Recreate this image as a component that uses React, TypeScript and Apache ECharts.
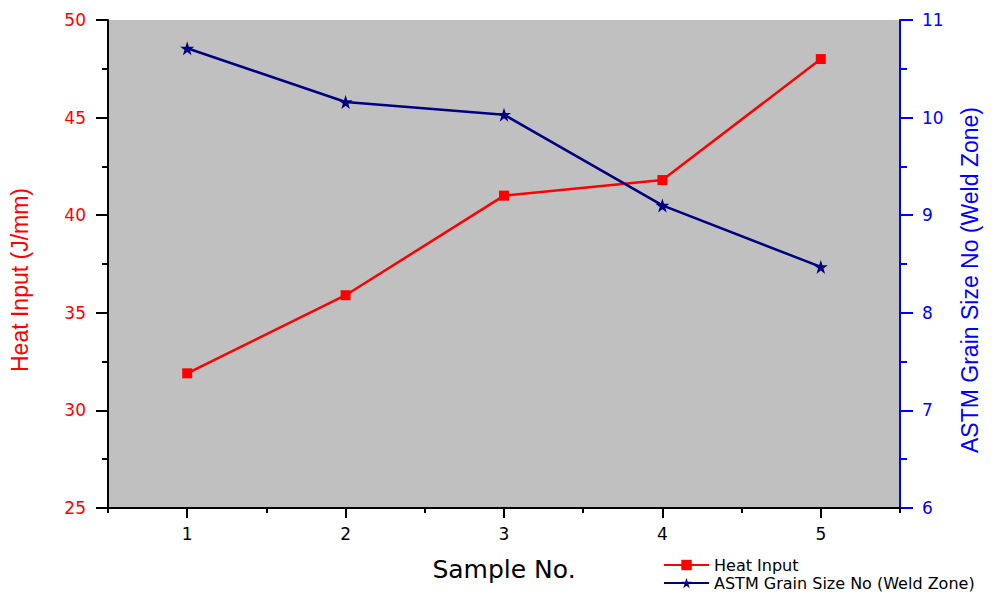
import React, { useEffect, useRef } from "react";
import * as echarts from "echarts";

const samples = [1, 2, 3, 4, 5];
const heatInput = [31.9, 35.9, 41.0, 41.8, 48.0];
const grainSize = [10.71, 10.16, 10.03, 9.1, 8.47];
const categoryLabels = ["1", "2", "3", "4", "5"];

const FONT = "'Liberation Sans', Arial, sans-serif";
const WIDE = "'DejaVu Sans', sans-serif";
const STAR = "path://M50,0 L61.8,35.3 L99,35.3 L69,57.3 L80.3,92.7 L50,70.8 L19.7,92.7 L31,57.3 L1,35.3 L38.2,35.3 Z";

export default function App() {
  const ref = useRef<HTMLDivElement>(null);
  useEffect(() => {
    if (!ref.current) return;
    const chart = echarts.init(ref.current, undefined, { renderer: "svg" });
    chart.setOption({
      animation: false,
      backgroundColor: "#ffffff",
      textStyle: { fontFamily: FONT },
      grid: {
        left: 108,
        right: 105,
        top: 20,
        bottom: 86,
        show: true,
        backgroundColor: "#c0c0c0",
        borderWidth: 0,
      },
      legend: {
        orient: "vertical",
        left: 663,
        top: 557,
        padding: 0,
        itemGap: 2,
        itemWidth: 45,
        itemHeight: 13,
        textStyle: { fontFamily: WIDE, fontSize: 16, lineHeight: 16, color: "#000" },
        data: [
          { name: "Heat Input", itemStyle: { color: "#ff0000" } },
          { name: "ASTM Grain Size No (Weld Zone)", itemStyle: { color: "#000080" } },
        ],
      },
      xAxis: [
        {
          type: "value",
          min: 0.5,
          max: 5.5,
          interval: 0.5,
          name: "Sample No.",
          nameLocation: "middle",
          nameGap: 49,
          nameTextStyle: { fontFamily: WIDE, fontSize: 25, color: "#000" },
          axisLine: { show: true, lineStyle: { color: "#000", width: 2 } },
          axisTick: { show: true, length: 5, lineStyle: { color: "#000", width: 2 } },
          axisLabel: {
            margin: 17,
            fontFamily: WIDE,
            fontSize: 17,
            color: "#000",
            formatter: (v: number) => (Number.isInteger(v) ? String(v) : ""),
          },
          splitLine: { show: false },
        },
        {
          type: "category",
          position: "bottom",
          data: categoryLabels,
          boundaryGap: true,
          axisLine: { show: false },
          axisTick: { show: true, alignWithLabel: true, length: 10, lineStyle: { color: "#000", width: 2 } },
          axisLabel: { show: false },
          splitLine: { show: false },
        },
      ],
      yAxis: [
        {
          type: "value",
          min: 25,
          max: 50,
          interval: 5,
          position: "left",
          name: "Heat Input (J/mm)",
          nameLocation: "middle",
          nameRotate: 90,
          nameGap: 77,
          nameTextStyle: { fontFamily: FONT, fontSize: 23, color: "#ff0000", padding: [0, 32, 0, 0] },
          axisLine: { show: true, lineStyle: { color: "#000", width: 2 } },
          axisTick: { show: true, length: 12, lineStyle: { color: "#000", width: 2 } },
          minorTick: { show: true, splitNumber: 2, length: 6, lineStyle: { color: "#000", width: 2 } },
          axisLabel: { margin: 22, fontFamily: WIDE, fontSize: 17, color: "#ff0000" },
          splitLine: { show: false },
        },
        {
          type: "value",
          min: 6,
          max: 11,
          interval: 1,
          position: "right",
          name: "ASTM Grain Size No (Weld Zone)",
          nameLocation: "middle",
          nameRotate: 90,
          nameGap: 58,
          nameTextStyle: { fontFamily: FONT, fontSize: 23, color: "#0000ff", padding: [0, 32, 0, 0] },
          axisLine: { show: true, lineStyle: { color: "#0000ff", width: 2 } },
          axisTick: { show: true, length: 13, lineStyle: { color: "#0000ff", width: 2 } },
          minorTick: { show: true, splitNumber: 2, length: 7, lineStyle: { color: "#0000ff", width: 2 } },
          axisLabel: { margin: 22, fontFamily: WIDE, fontSize: 17, color: "#0000ff" },
          splitLine: { show: false },
        },
      ],
      series: [
        {
          name: "Heat Input",
          type: "line",
          xAxisIndex: 0,
          yAxisIndex: 0,
          data: samples.map((s, i) => [s, heatInput[i]]),
          symbol: "rect",
          symbolSize: 10,
          itemStyle: { color: "#ff0000" },
          lineStyle: { color: "#ff0000", width: 2.5 },
        },
        {
          name: "ASTM Grain Size No (Weld Zone)",
          type: "line",
          xAxisIndex: 0,
          yAxisIndex: 1,
          data: samples.map((s, i) => [s, grainSize[i]]),
          symbol: STAR,
          symbolSize: 14,
          itemStyle: { color: "#000080" },
          lineStyle: { color: "#000080", width: 2.5 },
        },
      ],
    });
    return () => chart.dispose();
  }, []);
  return <div ref={ref} style={{ width: 1005, height: 594, position: "absolute", left: 0, top: 0 }} />;
}
